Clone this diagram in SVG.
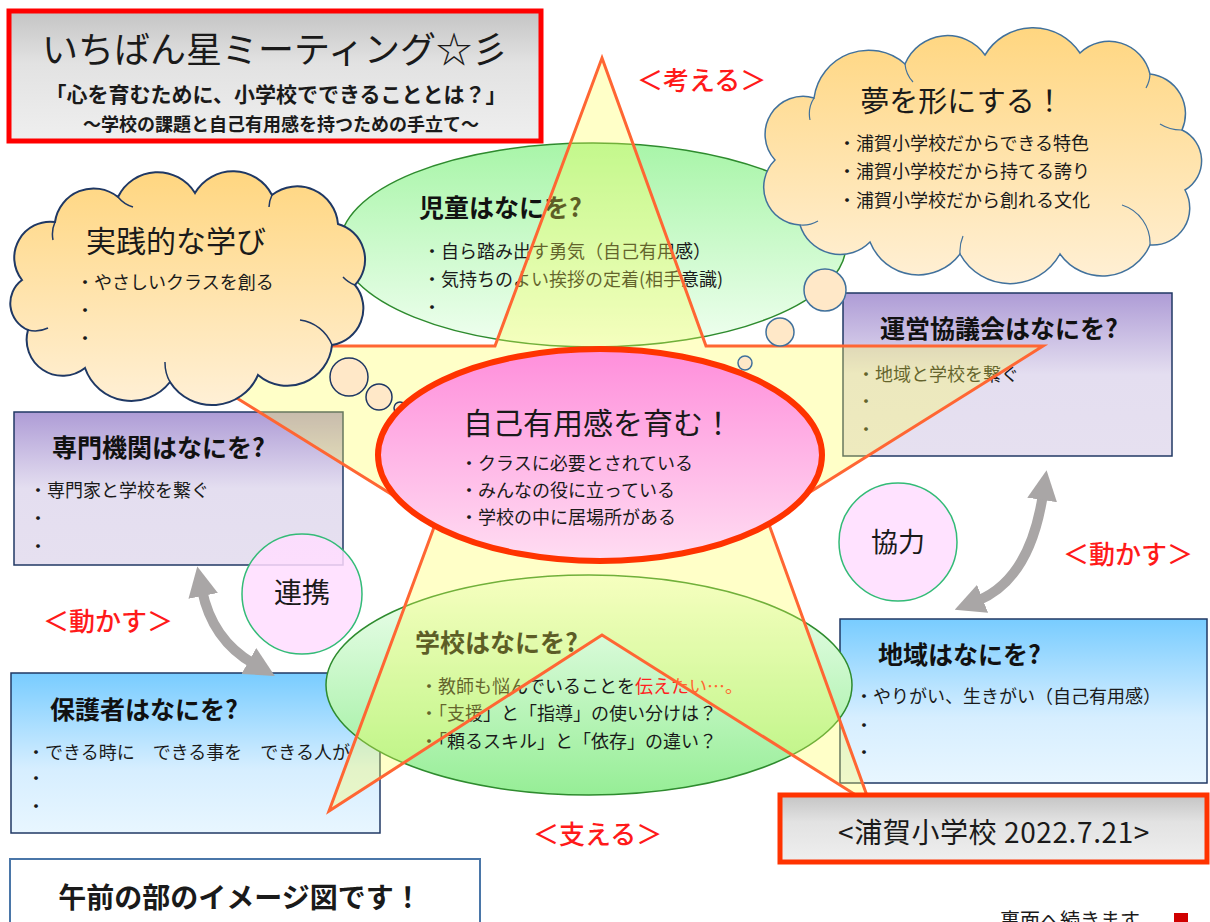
<svg xmlns="http://www.w3.org/2000/svg" width="1210" height="922" viewBox="0 0 1210 922">
<defs>
<style>
text{font-family:"Noto Sans CJK JP","Noto Sans CJK SC",sans-serif;fill:#1a1a1a}
.ttl{font-size:25px;font-weight:bold;fill:#111}
.bl{font-size:18px;fill:#1a1a1a}
.red{fill:#FF1A1A;font-size:26px;font-weight:500}
.box{stroke:#203864;stroke-width:1.5}
.cloudTR{fill:url(#gCloud);stroke:#41719C;stroke-width:1.5}
.cloudL{fill:url(#gCloud);stroke:#1F3864;stroke-width:2}
.bubTR{fill:#FFE8C8;stroke:#41719C;stroke-width:1.5}
.bubL{fill:#FFE8C8;stroke:#1F3864;stroke-width:1.5}
.gEl{stroke:#2E8B2E;stroke-width:1.5}
.circ{fill:#FFDDFF;fill-opacity:0.85;stroke:#33BB77;stroke-width:1.5}
.arr{fill:none;stroke:#A9A6A6;stroke-width:10}
</style>
<linearGradient id="gTitle" x1="0" y1="0" x2="0" y2="1"><stop offset="0" stop-color="#C4C4C4"/><stop offset="0.4" stop-color="#E2E2E2"/><stop offset="1" stop-color="#EFEFEF"/></linearGradient>
<linearGradient id="gCloud" x1="0" y1="0" x2="0" y2="1"><stop offset="0" stop-color="#FFD680"/><stop offset="1" stop-color="#FFF0D6"/></linearGradient>
<linearGradient id="gGreenT" x1="0" y1="0" x2="0" y2="1"><stop offset="0" stop-color="#A8F5A8"/><stop offset="1" stop-color="#F0FFF0"/></linearGradient>
<linearGradient id="gGreenB" x1="0" y1="0" x2="0" y2="1"><stop offset="0" stop-color="#F2FFF2"/><stop offset="1" stop-color="#96EE96"/></linearGradient>
<linearGradient id="gPink" x1="0" y1="0" x2="0" y2="1"><stop offset="0" stop-color="#FF8EDB"/><stop offset="1" stop-color="#FFDDF2"/></linearGradient>
<linearGradient id="gPurple" x1="0" y1="0" x2="0" y2="1"><stop offset="0" stop-color="#AE9CD6"/><stop offset="0.5" stop-color="#E4DEF0"/><stop offset="1" stop-color="#E6E0F0"/></linearGradient>
<linearGradient id="gBlue" x1="0" y1="0" x2="0" y2="1"><stop offset="0" stop-color="#78CCFF"/><stop offset="0.6" stop-color="#D6EEFF"/><stop offset="1" stop-color="#E8F6FF"/></linearGradient>
<marker id="ah" viewBox="0 0 10 10" refX="2" refY="5" markerWidth="3" markerHeight="3" orient="auto-start-reverse" markerUnits="strokeWidth"><path d="M0,0 L10,5 L0,10 Z" fill="#A9A6A6"/></marker>
</defs>

<!-- Boxes (behind star) -->
<g id="unei">
<rect class="box" x="843" y="293" width="329" height="163" fill="url(#gPurple)"/>
<text class="ttl" x="880" y="338">運営協議会はなにを?</text>
<text class="bl" x="857" y="381">・地域と学校を繋ぐ</text>
<text class="bl" x="857" y="408">・</text>
<text class="bl" x="857" y="436">・</text>
</g>
<g id="senmon">
<rect class="box" x="14" y="412" width="329" height="153" fill="url(#gPurple)"/>
<text class="ttl" x="52" y="457">専門機関はなにを?</text>
<text class="bl" x="29" y="497">・専門家と学校を繋ぐ</text>
<text class="bl" x="29" y="525">・</text>
<text class="bl" x="29" y="553">・</text>
</g>
<g id="hogosha">
<rect class="box" x="11" y="673" width="369" height="160" fill="url(#gBlue)"/>
<text class="ttl" x="50" y="719">保護者はなにを?</text>
<text class="bl" x="27" y="759">・できる時に　できる事を　できる人が</text>
<text class="bl" x="27" y="785">・</text>
<text class="bl" x="27" y="813">・</text>
</g>
<g id="chiiki">
<rect class="box" x="840" y="619" width="367" height="164" fill="url(#gBlue)"/>
<text class="ttl" x="878" y="664">地域はなにを?</text>
<text class="bl" x="855" y="703">・やりがい、生きがい（自己有用感）</text>
<text class="bl" x="855" y="732">・</text>
<text class="bl" x="855" y="759">・</text>
</g>

<!-- Green ellipses -->
<g id="jido">
<ellipse class="gEl" cx="593" cy="245" rx="253" ry="102" fill="url(#gGreenT)"/>
<text class="ttl" x="419" y="217">児童はなにを?</text>
<text class="bl" x="423" y="258">・自ら踏み出す勇気（自己有用感）</text>
<text class="bl" x="423" y="286">・気持ちのよい挨拶の定着(相手意識)</text>
<text class="bl" x="423" y="314">・</text>
</g>
<g id="gakko">
<ellipse class="gEl" cx="589" cy="685" rx="263" ry="110" fill="url(#gGreenB)"/>
<text class="ttl" x="415" y="652">学校はなにを?</text>
<text class="bl" x="420" y="693">・教師も悩んでいることを<tspan fill="#FF2020">伝えたい…。</tspan></text>
<text class="bl" x="420" y="720">・「支援」と「指導」の使い分けは？</text>
<text class="bl" x="420" y="748">・「頼るスキル」と「依存」の違い？</text>
</g>

<!-- Star -->
<g id="star">
<path d="M602,58 L706,346 L1043,346 L767,519 L870,804 L602,635 L329,811 L436,522 L153,346 L495,346 Z" fill="#FFFF55" fill-opacity="0.32" stroke="#FF6633" stroke-width="3" stroke-linejoin="miter"/>
</g>

<!-- Clouds -->
<g id="yume">
<path class="cloudTR" d="M775,160 A38,38 0 0 1 814,98 A55,55 0 0 1 905,64 A46,46 0 0 1 985,55 A56,56 0 0 1 1080,53 A42,42 0 0 1 1150,74 A40,40 0 0 1 1182,130 A34,34 0 0 1 1185,190 A37,37 0 0 1 1150,245 A52,52 0 0 1 1060,254 A57,57 0 0 1 960,254 A52,52 0 0 1 870,242 A42,42 0 0 1 800,225 A38,38 0 0 1 775,160 Z"/>
<path d="M814,98 a30,30 0 0 0 -4,22 M905,64 a30,30 0 0 0 8,18 M1150,74 a30,30 0 0 1 -4,14 M1182,130 a40,40 0 0 1 -22,-6 M1150,245 a40,40 0 0 0 -28,-40 M960,254 a40,40 0 0 1 3,-18 M800,225 a30,30 0 0 0 18,-4" fill="none" stroke="#41719C" stroke-width="1.2"/>
<circle class="bubTR" cx="825" cy="290" r="21"/>
<circle class="bubTR" cx="780" cy="332" r="14"/>
<circle class="bubTR" cx="745" cy="363" r="7"/>
<text x="962" y="112" font-size="29" text-anchor="middle" fill="#1a1a1a">夢を形にする！</text>
<text class="bl" x="838" y="150">・浦賀小学校だからできる特色</text>
<text class="bl" x="838" y="178">・浦賀小学校だから持てる誇り</text>
<text class="bl" x="838" y="207">・浦賀小学校だから創れる文化</text>
</g>
<g id="jissen">
<path class="cloudL" d="M22,280 A36,36 0 0 1 55,222 A39,39 0 0 1 118,197 A44,44 0 0 1 195,193 A44,44 0 0 1 272,195 A41,41 0 0 1 338,224 A37,37 0 0 1 355,285 A37,37 0 0 1 332,345 A45,45 0 0 1 258,375 A50,50 0 0 1 170,382 A49,49 0 0 1 85,368 A36,36 0 0 1 28,330 A29,29 0 0 1 22,280 Z"/>
<path d="M55,222 a30,30 0 0 0 -2,18 M118,197 a30,30 0 0 0 15,10 M272,195 a30,30 0 0 0 -3,12 M355,285 a30,30 0 0 1 -12,-8 M332,345 a40,40 0 0 0 -32,-25 M170,382 a40,40 0 0 1 -5,-20 M28,330 a30,30 0 0 0 20,-2" fill="none" stroke="#1F3864" stroke-width="1.5"/>
<circle class="bubL" cx="349" cy="377" r="19"/>
<circle class="bubL" cx="379" cy="397" r="13"/>
<circle class="bubL" cx="400" cy="408" r="6"/>
<text x="86" y="252" font-size="30">実践的な学び</text>
<text class="bl" x="76" y="289">・やさしいクラスを創る</text>
<text class="bl" x="76" y="317">・</text>
<text class="bl" x="76" y="345">・</text>
</g>

<!-- Center -->
<g id="jiko">
<ellipse cx="600" cy="455" rx="222" ry="106" fill="url(#gPink)" stroke="#FF3300" stroke-width="6"/>
<text x="598" y="434" font-size="30" text-anchor="middle">自己有用感を育む！</text>
<text class="bl" x="460" y="470">・クラスに必要とされている</text>
<text class="bl" x="460" y="497">・みんなの役に立っている</text>
<text class="bl" x="460" y="524">・学校の中に居場所がある</text>
</g>

<g id="renkei">
<circle class="circ" cx="302" cy="594" r="60"/>
<text x="302" y="603" font-size="28" text-anchor="middle">連携</text>
</g>
<g id="kyoryoku">
<circle class="circ" cx="898" cy="542" r="59"/>
<text x="898" y="552" font-size="27" text-anchor="middle">協力</text>
</g>

<!-- Title -->
<g id="title">
<rect x="9" y="11" width="532" height="130" fill="url(#gTitle)" stroke="#FF0000" stroke-width="5"/>
<text x="275" y="63" font-size="36" text-anchor="middle" fill="#1B2A6B">いちばん星ミーティング☆彡</text>
<text x="276" y="102" font-size="21" text-anchor="middle" fill="#1B2A6B" font-weight="bold">「心を育むために、小学校でできることとは？」</text>
<text x="281" y="131" font-size="18" text-anchor="middle" fill="#1B2A6B" font-weight="bold">～学校の課題と自己有用感を持つための手立て～</text>
</g>

<g id="uraga">
<rect x="780" y="795" width="427" height="67" fill="url(#gTitle)" stroke="#FF3300" stroke-width="5"/>
<text x="994" y="843" font-size="28" text-anchor="middle" letter-spacing="0.6">&lt;浦賀小学校 2022.7.21&gt;</text>
</g>

<g id="gozen">
<rect x="10" y="859" width="470" height="80" fill="#FFFFFF" stroke="#4A76A8" stroke-width="2"/>
<text x="240" y="908" font-size="28" font-weight="bold" text-anchor="middle" fill="#000">午前の部のイメージ図です！</text>
</g>

<!-- Connectors -->
<g id="connectors">
<path class="arr" d="M202,590 Q212,640 254,664" marker-start="url(#ah)" marker-end="url(#ah)"/>
<path class="arr" d="M1043,494 Q1030,580 977,601" marker-start="url(#ah)" marker-end="url(#ah)"/>
</g>

<!-- Labels -->
<g id="labels">
<text class="red" x="637" y="90">＜考える＞</text>
<text class="red" x="533" y="844">＜支える＞</text>
<text class="red" x="43" y="631">＜動かす＞</text>
<text class="red" x="1063" y="564">＜動かす＞</text>
<text x="1000" y="928" font-size="20" fill="#222">裏面へ続きます</text>
<rect x="1174" y="913" width="14" height="12" fill="#D00000"/>
</g>
</svg>
